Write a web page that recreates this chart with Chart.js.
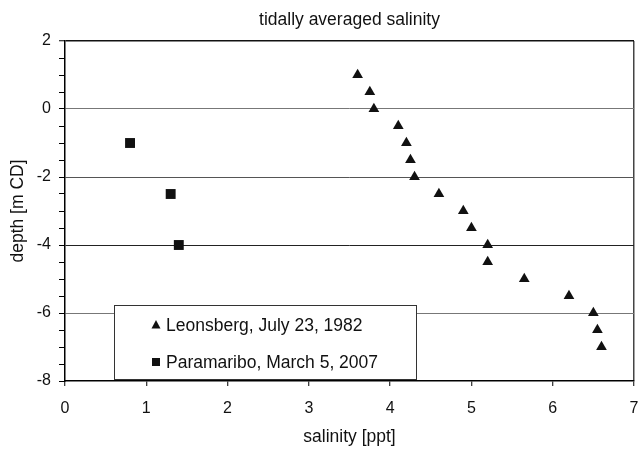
<!DOCTYPE html>
<html>
<head>
<meta charset="utf-8">
<script src="https://cdn.jsdelivr.net/npm/chart.js@4/dist/chart.umd.min.js"></script>
<style>
  html, body { margin: 0; padding: 0; background: #fff; }
  #wrap { width: 641px; height: 450px; position: relative; }
</style>
</head>
<body>
<div id="wrap"><canvas id="c" width="641" height="450"></canvas></div>
<script>
// ---- data ----
const chartTitle = 'tidally averaged salinity';
const xAxisTitle = 'salinity [ppt]';
const yAxisTitle = 'depth [m CD]';

const leonsbergLabel = 'Leonsberg, July 23, 1982';
const leonsbergSalinity = [3.6, 3.75, 3.8, 4.1, 4.2, 4.25, 4.3, 4.6, 4.9, 5.0, 5.2, 5.2, 5.65, 6.2, 6.5, 6.55, 6.6];
const leonsbergDepth    = [1.0, 0.5, 0.0, -0.5, -1.0, -1.5, -2.0, -2.5, -3.0, -3.5, -4.0, -4.5, -5.0, -5.5, -6.0, -6.5, -7.0];

const paramariboLabel = 'Paramaribo, March 5, 2007';
const paramariboSalinity = [0.8, 1.3, 1.4];
const paramariboDepth    = [-1.0, -2.5, -4.0];

const xMin = 0, xMax = 7, xStep = 1;
const yMin = -8, yMax = 2, yMajorStep = 2, yMinorStep = 0.5;

const FONT = "'Liberation Sans', Arial, Helvetica, sans-serif";
const INK = '#111';

function toPoints(xs, ys) { return xs.map((x, i) => ({ x: x, y: ys[i] })); }

// legend drawn inside the plot area, built from the dataset labels/styles
const insideLegend = {
  id: 'insideLegend',
  afterDraw(chart) {
    const ctx = chart.ctx;
    const x0 = 114, y0 = 305, w = 302, h = 74;
    ctx.save();
    ctx.fillStyle = '#fff';
    ctx.fillRect(x0, y0, w, h);
    ctx.strokeStyle = '#333';
    ctx.lineWidth = 1;
    ctx.strokeRect(x0 + 0.5, y0 + 0.5, w, h);
    ctx.font = '17.5px ' + FONT;
    ctx.textBaseline = 'middle';
    ctx.fillStyle = INK;
    const rows = [y0 + 20, y0 + 57];
    chart.data.datasets.forEach((ds, i) => {
      const cy = rows[i];
      const cx = x0 + 42;
      ctx.beginPath();
      if (ds.pointStyle === 'triangle') {
        ctx.moveTo(cx, cy - 5);
        ctx.lineTo(cx + 4.5, cy + 3.5);
        ctx.lineTo(cx - 4.5, cy + 3.5);
        ctx.closePath();
      } else {
        ctx.rect(cx - 4, cy - 4, 8, 8);
      }
      ctx.fill();
      ctx.fillText(ds.label, x0 + 52, cy + 1);
    });
    ctx.restore();
  }
};

function yGridColor(c) {
  const v = c.tick ? c.tick.value : null;
  if (v === null) return 'transparent';
  if (Math.abs(v % yMajorStep) > 1e-9) return 'transparent';
  if (v === yMin) return 'transparent';
  if (v === yMax) return '#111';
  if (v === -4) return '#222';
  if (v === -2) return '#555';
  return '#777';
}

new Chart(document.getElementById('c'), {
  type: 'scatter',
  data: {
    datasets: [
      {
        label: leonsbergLabel,
        data: toPoints(leonsbergSalinity, leonsbergDepth),
        pointStyle: 'triangle',
        pointRadius: 6.2,
        pointHoverRadius: 6.2,
        backgroundColor: INK,
        borderColor: INK,
        borderWidth: 0
      },
      {
        label: paramariboLabel,
        data: toPoints(paramariboSalinity, paramariboDepth),
        pointStyle: 'rect',
        pointRadius: 7,
        pointHoverRadius: 7,
        backgroundColor: INK,
        borderColor: INK,
        borderWidth: 0
      }
    ]
  },
  options: {
    responsive: false,
    animation: false,
    events: [],
    layout: { padding: { left: 0, right: 0, top: 0, bottom: 0 } },
    plugins: {
      legend: { display: false },
      tooltip: { enabled: false },
      title: {
        display: true,
        text: chartTitle,
        fullSize: false,
        color: INK,
        font: { family: FONT, size: 17.5, weight: 'normal' },
        padding: { top: 10, bottom: 10 }
      }
    },
    scales: {
      x: {
        type: 'linear',
        min: xMin, max: xMax,
        afterFit(scale) {
          scale.height = 69;
          scale.paddingLeft = 0;
          scale.paddingRight = 4;
        },
        ticks: {
          stepSize: xStep,
          color: INK,
          font: { family: FONT, size: 16 },
          padding: 13,
          maxRotation: 0
        },
        grid: {
          color: (c) => (c.tick && c.tick.value === xMax ? '#444' : 'transparent'),
          lineWidth: 1.5,
          tickColor: '#000',
          tickLength: 5,
          tickWidth: 1
        },
        border: { color: '#000', width: 1.5 },
        title: {
          display: true,
          text: xAxisTitle,
          color: INK,
          font: { family: FONT, size: 17.5 },
          padding: { top: 0, bottom: 2 }
        }
      },
      y: {
        type: 'linear',
        min: yMin, max: yMax,
        afterFit(scale) { scale.width = 65; },
        ticks: {
          stepSize: yMinorStep,
          autoSkip: false,
          color: INK,
          font: { family: FONT, size: 16 },
          padding: 8,
          callback: (v) => (Math.abs(v % yMajorStep) < 1e-9 ? String(v) : '')
        },
        grid: {
          color: yGridColor,
          lineWidth: (c) => (c.tick && c.tick.value === yMax ? 1.5 : 1),
          tickColor: '#000',
          tickLength: 6,
          tickWidth: 1
        },
        border: { color: '#000', width: 1.5 },
        title: {
          display: true,
          text: yAxisTitle,
          color: INK,
          font: { family: FONT, size: 17.5 },
          padding: { top: 8, bottom: 0 }
        }
      }
    }
  },
  plugins: [insideLegend]
});
</script>
</body>
</html>
